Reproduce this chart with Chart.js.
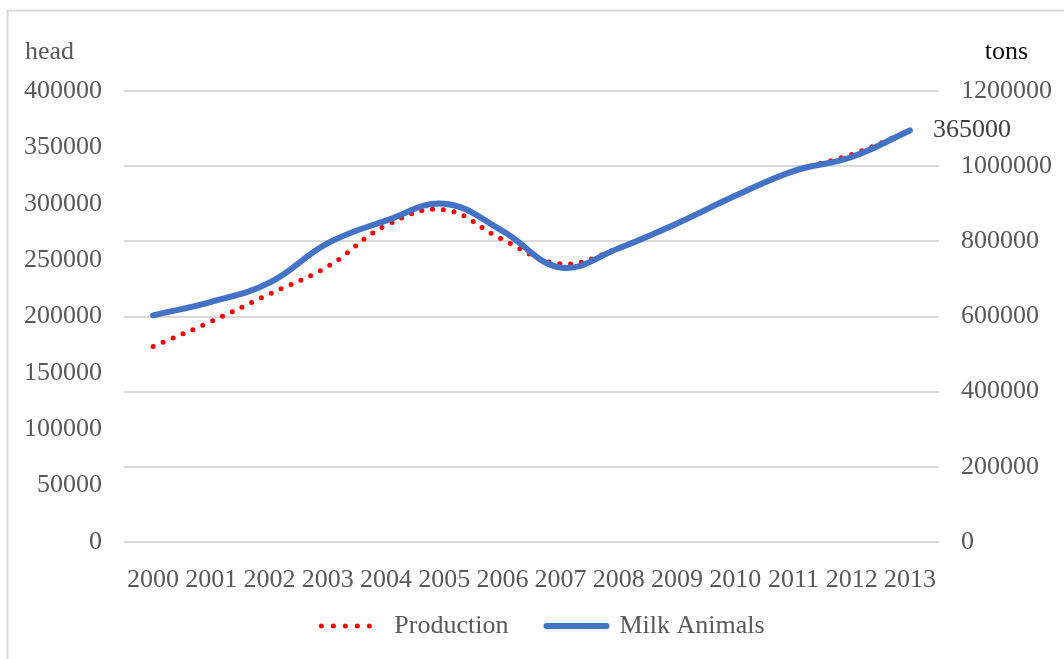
<!DOCTYPE html>
<html>
<head>
<meta charset="utf-8">
<script src="https://cdn.jsdelivr.net/npm/chart.js@4.4.1/dist/chart.umd.min.js"></script>
<style>
  html, body { margin: 0; padding: 0; background: #ffffff; }
  canvas { display: block; }
</style>
</head>
<body>
<canvas id="chart" width="1064" height="659"></canvas>
<script>
// Years on the horizontal axis
const years = ['2000', '2001', '2002', '2003', '2004', '2005', '2006',
               '2007', '2008', '2009', '2010', '2011', '2012', '2013'];

// Milk production, tons (right axis)
const production = [520000, 587000, 660000, 733000, 842000, 884000, 805000,
                    740000, 782000, 848000, 921000, 987000, 1031000, 1095000];

// Number of milk animals, head (left axis)
const milkAnimals = [201000, 213000, 230000, 265000, 285000, 300000, 276000,
                     243500, 260500, 282500, 307000, 329000, 341500, 365000];

// Tick values of both value axes
const headTicks = [0, 50000, 100000, 150000, 200000, 250000, 300000, 350000, 400000];
const tonTicks = [0, 200000, 400000, 600000, 800000, 1000000, 1200000];

const SERIF = "'Liberation Serif', 'Times New Roman', serif";
const LABEL_GREY = '#595959';
const TICK_PAD = 22;

Chart.defaults.font.family = SERIF;
Chart.defaults.font.size = 26;
Chart.defaults.color = LABEL_GREY;

// Thin light frame along the top and left edges
const framePlugin = {
  id: 'frame',
  beforeDraw(chart) {
    const ctx = chart.ctx;
    ctx.save();
    ctx.strokeStyle = '#d9d9d9';
    ctx.lineWidth = 2;
    ctx.beginPath();
    ctx.moveTo(7.5, chart.height);
    ctx.lineTo(7.5, 10.5);
    ctx.lineTo(chart.width, 10.5);
    ctx.stroke();
    ctx.restore();
  }
};

// Unit captions above each value axis
const unitPlugin = {
  id: 'units',
  afterDraw(chart) {
    const { ctx, chartArea, scales } = chart;
    const y = chartArea.top - 39;
    ctx.save();
    ctx.font = '26px ' + SERIF;
    ctx.textBaseline = 'middle';
    ctx.fillStyle = LABEL_GREY;
    ctx.textAlign = 'left';
    ctx.fillText('head', scales.y.left + 1, y);
    ctx.fillStyle = '#0d0d0d';
    ctx.textAlign = 'center';
    ctx.fillText('tons', (scales.y1.left + TICK_PAD + scales.y1.right) / 2, y);
    ctx.restore();
  }
};

// Value label next to the last point of the milk animals line
const endLabelPlugin = {
  id: 'endLabel',
  afterDatasetsDraw(chart) {
    const meta = chart.getDatasetMeta(1);
    const last = meta.data[meta.data.length - 1];
    if (!last) return;
    const ctx = chart.ctx;
    ctx.save();
    ctx.font = '26px ' + SERIF;
    ctx.fillStyle = '#404040';
    ctx.textAlign = 'left';
    ctx.textBaseline = 'middle';
    ctx.fillText(String(milkAnimals[milkAnimals.length - 1]), last.x + 23, last.y);
    ctx.restore();
  }
};

// Legend row under the axis: a line sample in each series' style, then its name
const legendPlugin = {
  id: 'seriesLegend',
  afterDraw(chart) {
    const ctx = chart.ctx;
    const datasets = chart.data.datasets;
    const sampleW = 60, textGap = 13, itemGap = 38;
    ctx.save();
    ctx.font = '26px ' + SERIF;
    const widths = datasets.map(ds => sampleW + textGap + ctx.measureText(ds.label).width);
    const total = widths.reduce((a, b) => a + b, 0) + itemGap * (datasets.length - 1);
    let x = chart.width / 2 + 11 - total / 2;
    const y = chart.chartArea.bottom + 84;
    datasets.forEach((ds, i) => {
      ctx.beginPath();
      ctx.strokeStyle = ds.borderColor;
      ctx.lineWidth = ds.borderWidth;
      ctx.lineCap = 'round';
      ctx.setLineDash(ds.borderDash ? [0, 12] : []);
      ctx.moveTo(x, y);
      ctx.lineTo(x + sampleW, y);
      ctx.stroke();
      ctx.setLineDash([]);
      ctx.fillStyle = LABEL_GREY;
      ctx.textAlign = 'left';
      ctx.textBaseline = 'middle';
      ctx.fillText(ds.label, x + sampleW + textGap, y);
      x += widths[i] + itemGap;
    });
    ctx.restore();
  }
};

const plainNumber = v => String(v);

new Chart(document.getElementById('chart'), {
  type: 'line',
  data: {
    labels: years,
    datasets: [
      {
        label: 'Production',
        data: production,
        yAxisID: 'y1',
        borderColor: '#ff0000',
        backgroundColor: '#ff0000',
        borderWidth: 5,
        borderDash: [0, 10.8],
        borderCapStyle: 'round',
        pointRadius: 0,
        tension: 0.4,
        fill: false,
        order: 2
      },
      {
        label: 'Milk Animals',
        data: milkAnimals,
        yAxisID: 'y',
        borderColor: '#4472c4',
        backgroundColor: '#4472c4',
        borderWidth: 6,
        borderCapStyle: 'round',
        borderJoinStyle: 'round',
        pointRadius: 0,
        tension: 0.4,
        fill: false,
        order: 1
      }
    ]
  },
  options: {
    responsive: false,
    animation: false,
    devicePixelRatio: 1,
    layout: { padding: { top: 91, left: 24, right: 12, bottom: 71 } },
    plugins: {
      tooltip: { enabled: false },
      legend: { display: false }
    },
    scales: {
      x: {
        type: 'category',
        offset: true,
        grid: { display: false },
        border: { display: false },
        ticks: { padding: 15, color: LABEL_GREY, maxRotation: 0, autoSkip: false },
        afterFit(scale) { scale.height = 46; }
      },
      y: {
        position: 'left',
        min: 0,
        max: 400000,
        grid: { display: false, drawTicks: false },
        border: { display: false },
        ticks: { padding: TICK_PAD, color: LABEL_GREY, callback: plainNumber },
        afterBuildTicks(scale) { scale.ticks = headTicks.map(v => ({ value: v })); },
        afterFit(scale) { scale.width = 100; }
      },
      y1: {
        position: 'right',
        min: 0,
        max: 1200000,
        grid: { color: '#d9d9d9', lineWidth: 2, drawTicks: false },
        border: { display: false },
        ticks: { padding: TICK_PAD, color: LABEL_GREY, callback: plainNumber },
        afterBuildTicks(scale) { scale.ticks = tonTicks.map(v => ({ value: v })); },
        afterFit(scale) { scale.width = 113; }
      }
    }
  },
  plugins: [framePlugin, unitPlugin, endLabelPlugin, legendPlugin]
});
</script>
</body>
</html>
